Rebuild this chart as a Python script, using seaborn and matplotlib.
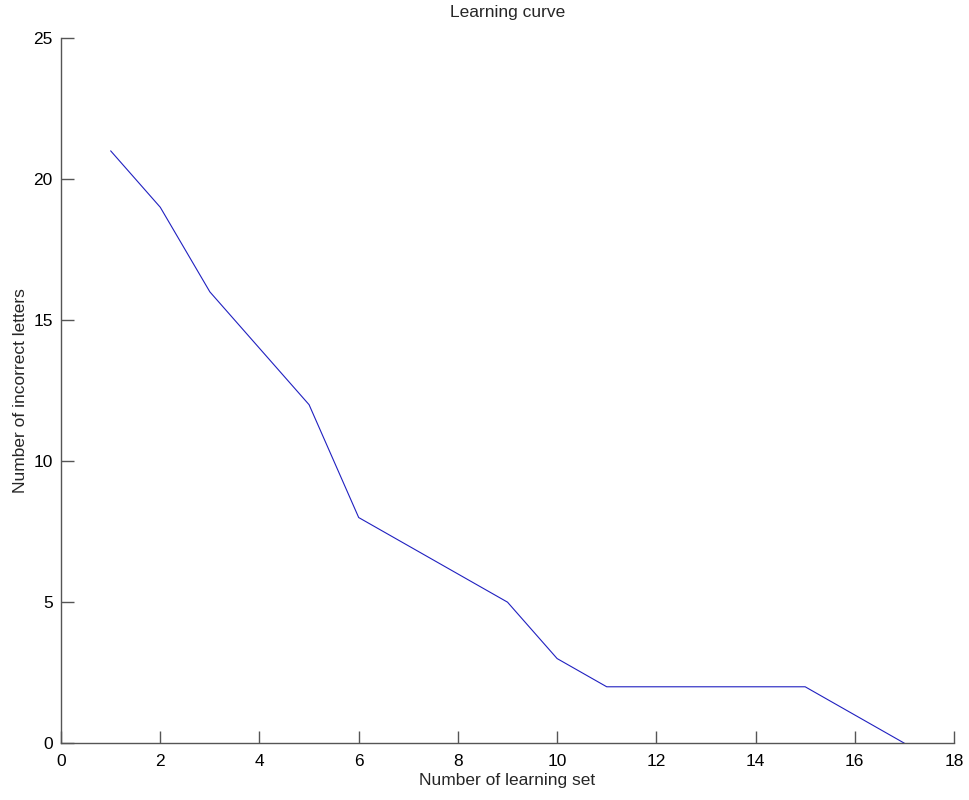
import matplotlib
matplotlib.use('Agg')
import pandas as pd
import seaborn as sns
from matplotlib import pyplot as plt

learning_set = [1, 2, 3, 4, 5, 6, 7, 8, 9, 10, 11, 12, 13, 14, 15, 16, 17]
incorrect_letters = [21, 19, 16, 14, 12, 8, 7, 6, 5, 3, 2, 2, 2, 2, 2, 1, 0]
x_ticks = [0, 2, 4, 6, 8, 10, 12, 14, 16, 18]
y_ticks = [0, 5, 10, 15, 20, 25]

sns.set_style("white")
plt.rcParams['font.family'] = ['Liberation Sans', 'DejaVu Sans']

df = pd.DataFrame({"set": learning_set, "incorrect": incorrect_letters})

fig = plt.figure(figsize=(9.69, 8), dpi=100)
ax = fig.add_axes([0.063, 0.071, 0.9215, 0.8815])
sns.lineplot(data=df, x="set", y="incorrect", ax=ax, color="#2020c0", linewidth=0.8)

ax.set_xlim(0, 18)
ax.set_ylim(0, 25)
ax.set_xticks(x_ticks)
ax.set_yticks(y_ticks)
ax.tick_params(direction='in', length=9, width=1, colors='#555555', labelcolor='black', labelsize=12.5,
               bottom=True, left=True)
ax.tick_params(axis='x', pad=8)
ax.tick_params(axis='y', pad=6)
for side in ['top', 'right']:
    ax.spines[side].set_visible(False)
for side in ['left', 'bottom']:
    ax.spines[side].set_color('#555555')
    ax.spines[side].set_linewidth(1)

ax.set_xlabel("Number of learning set", fontsize=12.5, labelpad=3)
ax.set_ylabel("Number of incorrect letters", fontsize=12.5, labelpad=4)
ax.set_title("Learning curve", fontsize=12.5, pad=15)

fig.savefig("out.png", dpi=100)
